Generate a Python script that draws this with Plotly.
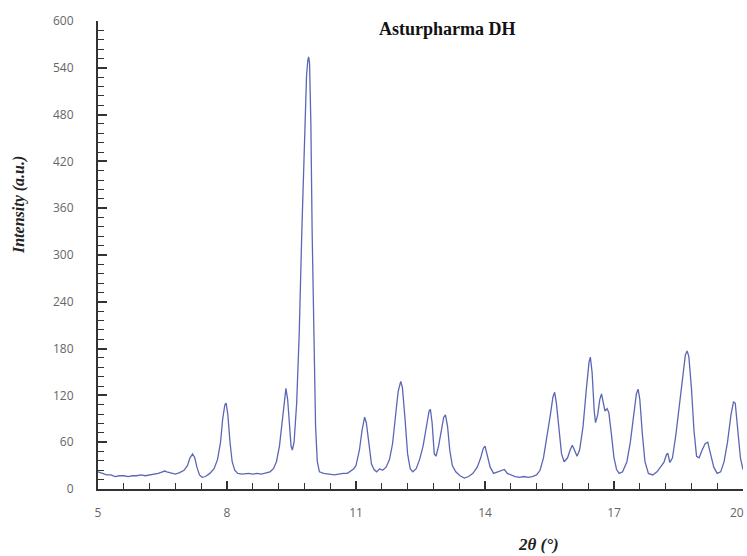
import plotly.graph_objects as go

two_theta = [5.00, 5.05, 5.10, 5.20, 5.30, 5.40, 5.50, 5.60, 5.70, 5.80, 5.90, 6.00, 6.10, 6.20, 6.30, 6.40,
             6.50, 6.55, 6.60, 6.70, 6.80, 6.90, 7.00, 7.08, 7.14, 7.20, 7.25, 7.30, 7.36, 7.42, 7.50, 7.60,
             7.70, 7.78, 7.85, 7.90, 7.95, 7.98, 8.02, 8.07, 8.12, 8.18, 8.25, 8.35, 8.50, 8.60, 8.70, 8.80,
             8.90, 9.00, 9.08, 9.15, 9.22, 9.28, 9.33, 9.37, 9.41, 9.45, 9.49, 9.52, 9.56, 9.62, 9.68, 9.74,
             9.80, 9.85, 9.88, 9.90, 9.92, 9.95, 9.98, 10.02, 10.06, 10.10, 10.15, 10.25, 10.40, 10.50, 10.60,
             10.70, 10.80, 10.90, 10.95, 11.00, 11.08, 11.14, 11.20, 11.24, 11.30, 11.36, 11.42, 11.48, 11.55,
             11.62, 11.70, 11.78, 11.85, 11.92, 11.98, 12.04, 12.08, 12.14, 12.20, 12.26, 12.32, 12.40, 12.48,
             12.56, 12.64, 12.70, 12.73, 12.77, 12.82, 12.86, 12.92, 12.98, 13.04, 13.08, 13.13, 13.18, 13.24,
             13.32, 13.42, 13.52, 13.62, 13.72, 13.82, 13.90, 13.96, 14.00, 14.05, 14.12, 14.20, 14.30, 14.38,
             14.45, 14.52, 14.60, 14.70, 14.80, 14.90, 15.00, 15.10, 15.20, 15.28, 15.36, 15.44, 15.52, 15.58,
             15.62, 15.66, 15.72, 15.78, 15.84, 15.92, 15.98, 16.03, 16.08, 16.14, 16.20, 16.28, 16.36, 16.42,
             16.45, 16.49, 16.54, 16.57, 16.62, 16.67, 16.71, 16.75, 16.79, 16.84, 16.88, 16.94, 17.00, 17.06,
             17.12, 17.20, 17.30, 17.38, 17.46, 17.52, 17.56, 17.60, 17.66, 17.72, 17.80, 17.90, 18.00, 18.08,
             18.16, 18.22, 18.25, 18.30, 18.36, 18.44, 18.52, 18.60, 18.66, 18.70, 18.74, 18.80, 18.86, 18.92,
             18.98, 19.05, 19.12, 19.18, 19.24, 19.32, 19.40, 19.48, 19.56, 19.64, 19.72, 19.78, 19.82, 19.88,
             19.94, 20.00]

intensity = [22, 21, 19, 18, 18, 16, 17, 17, 16, 17, 17, 18, 17, 18, 19, 20,
             22, 23, 22, 20, 19, 21, 24, 30, 40, 45, 40, 28, 18, 15, 16, 20,
             26, 38, 60, 90, 108, 110, 95, 60, 35, 24, 20, 19, 20, 19, 20, 19,
             21, 22, 26, 35, 55, 85, 115, 129, 115, 80, 55, 50, 60, 110, 200, 330,
             450, 530, 550, 554, 545, 470, 330, 180, 80, 35, 22, 20, 19, 18, 19,
             20, 20, 24, 26, 30, 50, 75, 92, 85, 55, 32, 25, 22, 26,
             24, 28, 38, 58, 95, 125, 138, 130, 90, 45, 26, 22, 26, 38,
             55, 80, 100, 102, 85, 45, 42, 55, 75, 92, 95, 80, 50, 30,
             22, 17, 14, 16, 20, 28, 40, 52, 55, 45, 28, 20, 22, 24,
             25, 20, 18, 16, 15, 16, 15, 16, 18, 24, 40, 65, 95, 118,
             124, 110, 75, 45, 35, 40, 50, 56, 50, 42, 50, 80, 130, 163,
             169, 150, 100, 85, 95, 115, 122, 108, 100, 103, 98, 70, 40, 25,
             20, 22, 35, 60, 95, 122, 128, 115, 70, 35, 20, 18, 22, 28,
             34, 44, 46, 34, 40, 70, 110, 150, 172, 177, 170, 130, 75, 42,
             40, 50, 58, 60, 45, 28, 20, 22, 35, 60, 95, 112, 110, 70,
             40, 25]

x_ticks = [5, 8, 11, 14, 17, 20]
y_ticks = [0, 60, 120, 180, 240, 300, 360, 420, 480, 540, 600]

fig = go.Figure()
fig.add_trace(go.Scatter(x=two_theta, y=intensity, mode="lines",
                         line=dict(color="#5b67b5", width=1.3), showlegend=False))

tick_font = dict(family="Open Sans, Noto Sans, sans-serif", size=12, color="#666666")

# last x tick label sits at the very edge; draw it as a right-anchored annotation so it stays visible
x_ticktext = [str(v) for v in x_ticks[:-1]] + [""]

fig.update_xaxes(range=[5, 20], tickvals=x_ticks, ticktext=x_ticktext,
                 ticks="inside", ticklen=8, tickwidth=2, tickcolor="#333333",
                 showline=True, linecolor="#333333", linewidth=2, showgrid=False, zeroline=False,
                 tickfont=tick_font, ticklabelstandoff=12,
                 minor=dict(tickvals=[5 + 0.6 * i for i in range(26) if i % 5 != 0],
                            ticks="inside", ticklen=6, tickwidth=1.3, tickcolor="#333333"))
fig.update_yaxes(range=[0, 600], tickvals=y_ticks, ticktext=[str(v) for v in y_ticks],
                 ticks="inside", ticklen=9, tickwidth=2, tickcolor="#333333",
                 showline=True, linecolor="#333333", linewidth=2, showgrid=False, zeroline=False,
                 tickfont=tick_font, ticklabelstandoff=20, ticklabeloverflow="allow",
                 minor=dict(tickvals=[12 * i for i in range(51) if i % 5 != 0],
                            ticks="inside", ticklen=6, tickwidth=1.3, tickcolor="#333333"))

W, H = 747, 556
L, R, T, B = 98, 4, 21, 67
pw, ph = W - L - R, H - T - B

def px2paper(px, py):
    return (px - L) / pw, (H - B - py) / ph

ax_, ay_ = px2paper(447, 29)
fig.add_annotation(text="<b>Asturpharma DH</b>", x=ax_, y=ay_, xref="paper", yref="paper",
                   xanchor="center", yanchor="middle", showarrow=False,
                   font=dict(family="Liberation Serif, serif", size=18, color="#111111"))
ax_, ay_ = px2paper(19, 205)
fig.add_annotation(text="<b><i>Intensity (a.u.)</i></b>", textangle=-90,
                   x=ax_, y=ay_, xref="paper", yref="paper",
                   xanchor="center", yanchor="middle", showarrow=False,
                   font=dict(family="Liberation Serif, serif", size=16, color="#222222"))
ax_, ay_ = px2paper(538, 544)
fig.add_annotation(text="<b><i>2θ (°)</i></b>", x=ax_, y=ay_, xref="paper", yref="paper",
                   xanchor="center", yanchor="middle", showarrow=False,
                   font=dict(family="Liberation Serif, serif", size=17, color="#222222"))
ax_, ay_ = px2paper(W - 1, 512)
fig.add_annotation(text=str(x_ticks[-1]), x=ax_, y=ay_, xref="paper", yref="paper",
                   xanchor="right", yanchor="middle", showarrow=False,
                   font=tick_font)

fig.update_layout(width=W, height=H, margin=dict(l=L, r=R, t=T, b=B, autoexpand=False),
                  plot_bgcolor="white", paper_bgcolor="white")

fig.write_html("out.html")
